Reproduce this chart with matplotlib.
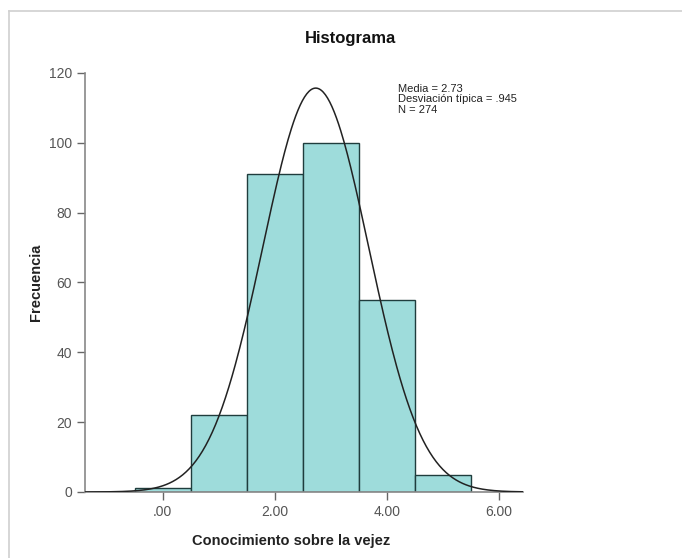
#!/usr/bin/env python3
"""
SPSS-style histogram: Conocimiento sobre la vejez
"""
import matplotlib
matplotlib.use('Agg')
import matplotlib.pyplot as plt
import numpy as np
from matplotlib.lines import Line2D

plt.rcParams['font.family'] = ['Liberation Sans', 'DejaVu Sans']

# data
bin_centers = [0, 1, 2, 3, 4, 5]
counts = [1, 22, 91, 100, 55, 5]
mean = 2.73
std = 0.945
n = 274
xtick_vals = [0, 2, 4, 6]
xtick_labels = ['.00', '2.00', '4.00', '6.00']
ytick_vals = [0, 20, 40, 60, 80, 100, 120]

fig = plt.figure(figsize=(6.82, 5.58), dpi=100)
ax = fig.add_axes([0.1246, 0.1183, 0.6422, 0.7509])

# outer frame like the SPSS viewer
fig.add_artist(Line2D([9/682, 9/682], [0, 1 - 11/558], color='#d0d0d0', lw=1.2,
                      transform=fig.transFigure))
fig.add_artist(Line2D([9/682, 1], [1 - 11/558, 1 - 11/558], color='#d0d0d0', lw=1.2,
                      transform=fig.transFigure))

ax.bar(bin_centers, counts, width=1.0, color='#9edcdb', edgecolor='#1f3d3d',
       linewidth=1.0, zorder=2)

xs = np.linspace(-1.39, 6.43, 400)
pdf = n * 1.0 / (std * np.sqrt(2 * np.pi)) * np.exp(-0.5 * ((xs - mean) / std) ** 2)
ax.plot(xs, pdf, color='#222222', lw=1.1, zorder=3)

ax.set_xlim(-1.39, 6.43)
ax.set_ylim(0, 120)
ax.set_xticks(xtick_vals)
ax.set_xticklabels(xtick_labels)
ax.set_yticks(ytick_vals)

for s in ['top', 'right']:
    ax.spines[s].set_visible(False)
for s in ['left', 'bottom']:
    ax.spines[s].set_color('#888888')
    ax.spines[s].set_linewidth(1.2)
ax.tick_params(axis='both', colors='#666666', labelcolor='#555555', labelsize=10,
               length=6, width=1.0, direction='out')

ax.set_xlabel('Conocimiento sobre la vejez', fontsize=10.5, fontweight='bold',
              color='#222222')
ax.xaxis.set_label_coords((291 - 85) / 438, -0.1)
ax.set_ylabel('Frecuencia', fontsize=10.5, fontweight='bold', color='#222222',
              labelpad=4)
fig.text(351/682, 1 - 38/558, 'Histograma', ha='center', va='center',
         fontsize=12, fontweight='bold', color='#111111')

ax.text(398/682, 1 - 84/558,
        f'Media = {mean:.2f}\nDesviación típica = {std:.3f}'.replace('0.', '.') + f'\nN = {n}',
        transform=fig.transFigure, ha='left', va='top', fontsize=8,
        color='#222222', linespacing=1.05)

plt.savefig('out.png', dpi=100)
plt.close()
print("✓ Created: out.png")
